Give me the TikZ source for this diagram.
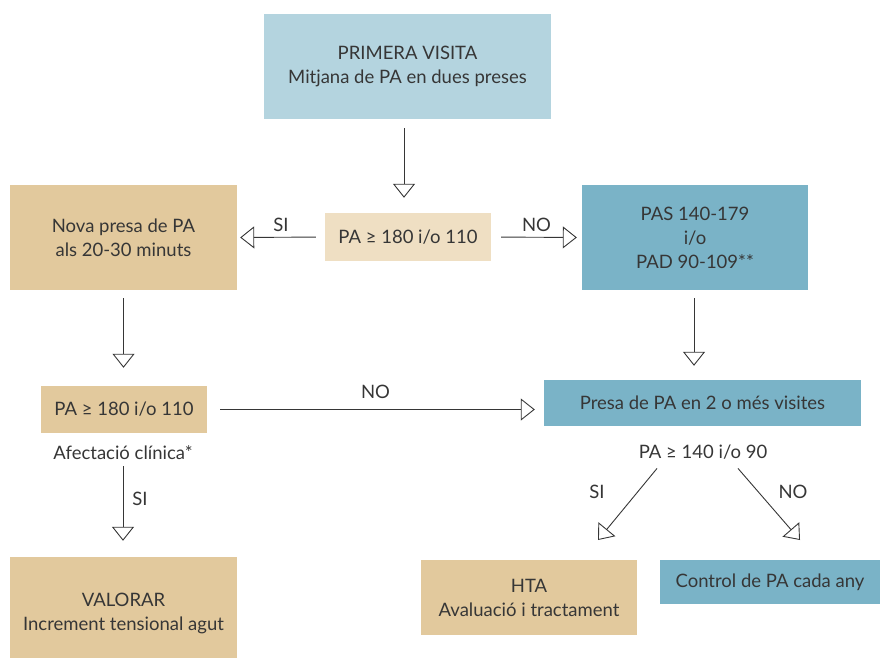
\documentclass[tikz,border=0pt]{standalone}
\usepackage{fontspec}
\setmainfont{Lato}
\usetikzlibrary{arrows.meta}
\definecolor{topblue}{HTML}{B4D4DF}
\definecolor{midblue}{HTML}{7AB3C7}
\definecolor{tan}{HTML}{E2C99D}
\definecolor{paletan}{HTML}{EFDFC3}
\definecolor{ink}{HTML}{363636}
\tikzset{
  box/.style={inner sep=0pt, align=center, text=ink, font=\fontsize{18.5}{24}\selectfont},
  lbl/.style={text=ink, font=\fontsize{18.5}{24}\selectfont, inner sep=0pt},
  flow/.style={draw=ink, line width=0.9pt,
    -{Triangle[open, length=14pt, width=22pt, line width=0.9pt]}},
}
\begin{document}
\begin{tikzpicture}[x=1pt, y=-1pt]
\useasboundingbox (0,0) rectangle (882,657);
% boxes
\node[box, fill=topblue, minimum width=287pt, minimum height=105pt] (visit) at (407.5,66.5) {PRIMERA VISITA\\Mitjana de PA en dues preses};
\node[box, fill=paletan, minimum width=166pt, minimum height=48pt] (pa180) at (408,237) {PA ≥ 180 i/o 110};
\node[box, fill=tan, minimum width=227pt, minimum height=105pt] (nova) at (123.5,237.5) {Nova presa de PA\\als 20-30 minuts};
\node[box, fill=midblue, minimum width=226pt, minimum height=105pt] (pas) at (695,237.5) {PAS 140-179\\i/o\\PAD 90-109**};
\node[box, fill=tan, minimum width=166pt, minimum height=47pt] (pa180b) at (124,409.5) {PA ≥ 180 i/o 110};
\node[lbl] (afect) at (123,453) {Afectació clínica*};
\node[box, fill=midblue, minimum width=317pt, minimum height=46pt] (presa) at (702.5,403) {Presa de PA en 2 o més visites};
\node[lbl] (pa140) at (703,452) {PA ≥ 140 i/o 90};
\node[box, fill=tan, minimum width=227pt, minimum height=112pt] (valorar) at (123.5,613) {VALORAR\\Increment tensional agut};
\node[box, fill=tan, minimum width=216pt, minimum height=75pt] (hta) at (529,597.5) {HTA\\Avaluació i tractament};
\node[box, fill=midblue, minimum width=220pt, minimum height=44pt] (control) at (770,582) {Control de PA cada any};
% connectors
\draw[flow, shorten <=9pt, shorten >=15pt] (visit.south -| 404,0) -- (pa180.north -| 404,0);
\draw[flow, shorten <=9pt, shorten >=3pt] (pa180.west) -- node[lbl, above=5pt] {SI} (nova.east);
\draw[flow, shorten <=10pt, shorten >=5pt] (pa180.east) -- node[lbl, above=5pt] {NO} (pas.west);
\draw[flow, shorten <=8pt, shorten >=18pt] (nova.south) -- (pa180b.north -| nova.south);
\draw[flow, shorten <=8pt, shorten >=14pt] (pas.south -| 694,0) -- (presa.north -| 694,0);
\draw[flow, shorten <=13pt, shorten >=9pt] (pa180b.east) -- node[lbl, above=10pt] {NO} (presa.west |- pa180b.east);
\draw[flow, shorten <=6pt, shorten >=16pt] (afect.south) -- node[lbl, right=9pt, pos=0.4] {SI} (valorar.north -| afect.south);
\coordinate (siend) at (598,540);
\coordinate (noend) at (800,540);
\draw[flow] (pa140.south -| 657,0) ++(0,9) -- (siend);
\draw[flow] (pa140.south -| 738,0) ++(0,9) -- (noend);
\node[lbl] (si2) at (597,492) {SI};
\node[lbl] (no2) at (793,492) {NO};
\end{tikzpicture}
\end{document}
